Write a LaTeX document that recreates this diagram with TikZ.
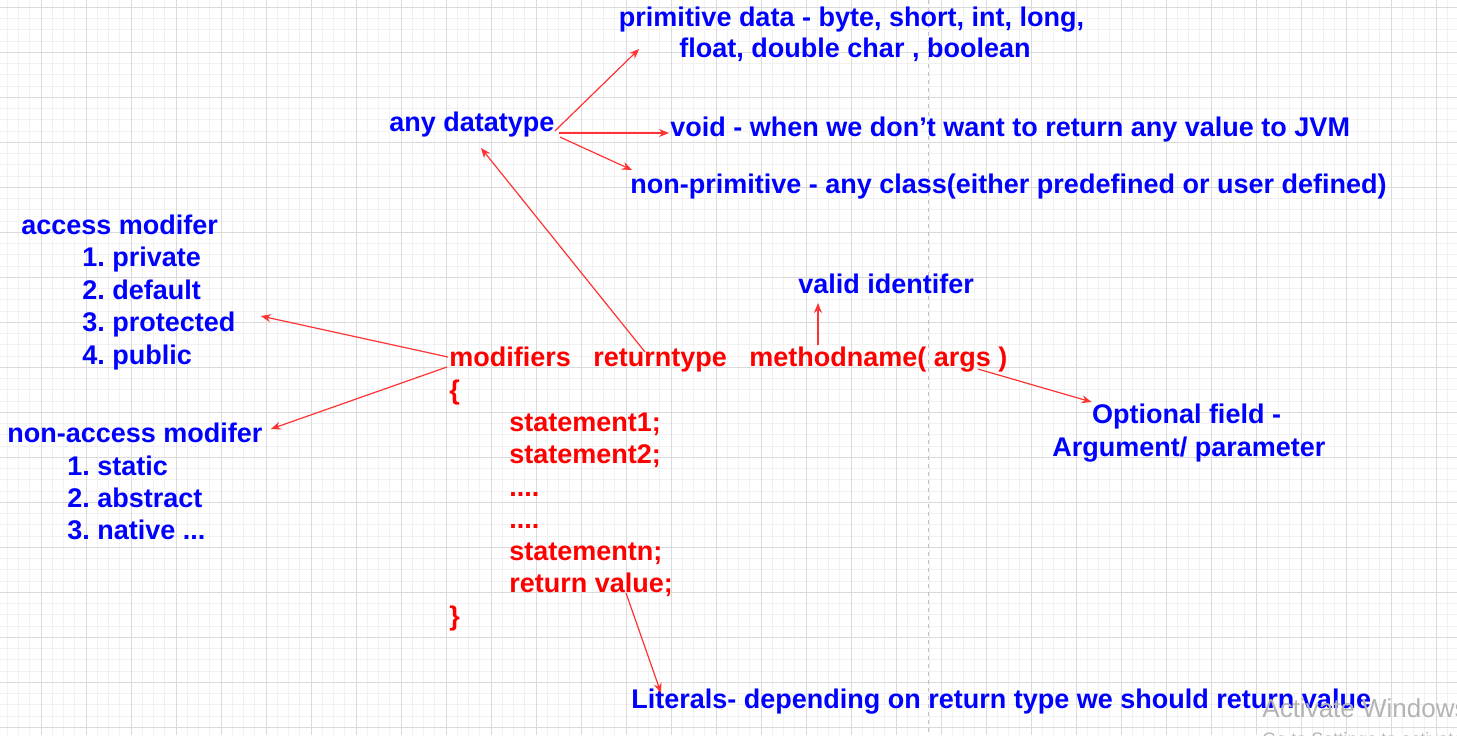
\documentclass[tikz,border=0pt]{standalone}
\usepackage{fontspec}
\setmainfont{Liberation Sans}
\usetikzlibrary{calc,arrows.meta}
\frenchspacing

\definecolor{mdBlue}{HTML}{0000FF}
\definecolor{mdRed}{HTML}{FF0000}
\definecolor{mdArrow}{HTML}{FF3333}
\definecolor{mdGridMinor}{HTML}{F1F1F1}
\definecolor{mdGridMajor}{HTML}{DADADA}
\definecolor{mdPage}{HTML}{C4C4C4}
\definecolor{mdWatermark}{HTML}{B4B4B4}

\begin{document}
\begin{tikzpicture}[
  x=0.5pt, y=-0.5pt,
  font=\fontsize{13.5}{16.25}\selectfont\bfseries,
  note/.style={inner sep=0pt, anchor=base west, text=mdBlue},
  code/.style={inner sep=0pt, anchor=base west, text=mdRed},
  link/.style={-{Stealth[length=5pt, width=4pt]}, draw=mdArrow, line width=0.6pt}
]
  \useasboundingbox (0,0) rectangle (1457,735);
  \fill[white] (0,0) rectangle (1457,735);

  % ---- background grid ----
  \foreach \gx in {0,...,128}
    \draw[mdGridMinor, line width=0.5pt] ({7.4+11.25*\gx},0) -- ++(0,735);
  \foreach \gy in {0,...,64}
    \draw[mdGridMinor, line width=0.5pt] (0,{7.3+11.25*\gy}) -- ++(1457,0);
  \foreach \gx in {0,...,31}
    \draw[mdGridMajor, line width=0.5pt] ({41.3+45*\gx},0) -- ++(0,735);
  \foreach \gy in {0,...,16}
    \draw[mdGridMajor, line width=0.5pt] (0,{7.3+45*\gy}) -- ++(1457,0);
  \draw[mdPage, line width=0.5pt, dash pattern=on 2pt off 2pt] (928,0) -- (928,735);

  % ---- return type branch ----
  \node[note, anchor=base] (prim1) at (851.5,26) {primitive data - byte, short, int, long,};
  \node[note, anchor=base] (prim2) at (855,57) {float, double char , boolean};
  \node[note] (anydt) at (389,131) {any datatype};
  \node[note] (void) at (670,136) {void - when we don't want to return any value to JVM};
  \node[note] (nonprim) at (630,193) {non-primitive - any class(either predefined or user defined)};

  % ---- modifier lists ----
  \node[note] (accmod) at (21,234) {access modifer};
  \node[note] (acc1) at (82,266) {1. private};
  \node[note] (acc2) at (82,299) {2. default};
  \node[note] (acc3) at (82,331) {3. protected};
  \node[note] (acc4) at (82,364) {4. public};
  \node[note] (nonacc) at (7,442) {non-access modifer};
  \node[note] (nacc1) at (67,475) {1. static};
  \node[note] (nacc2) at (67,507) {2. abstract};
  \node[note] (nacc3) at (67,539) {3. native ...};

  \node[note] (valid) at (798,293) {valid identifer};
  \node[note, anchor=base] (opt1) at (1186.5,423) {Optional field -};
  \node[note, anchor=base] (opt2) at (1189,456) {Argument/ parameter};

  % ---- method skeleton ----
  \node[code] (mods) at (449,366) {modifiers};
  \node[code] (rett) at (593,366) {returntype};
  \node[code] (mname) at (749,366) {methodname( args )};
  \node[code] (lbrace) at (449,399) {\{};
  \node[code] (st1) at (509,431) {statement1;};
  \node[code] (st2) at (509,463) {statement2;};
  \node[code] (dots1) at (509,496) {....};
  \node[code] (dots2) at (509,528) {....};
  \node[code] (stn) at (509,560) {statementn;};
  \node[code] (retval) at (509,592) {return value;};
  \node[code] (rbrace) at (449,625) {\}};

  \node[note] (lits) at (631,708) {Literals- depending on return type we should return value};

  % ---- screen watermark ----
  \node[inner sep=0pt, anchor=base west, text=mdWatermark, font=\fontsize{13}{15}\selectfont]
        (actwin) at (1262,717) {Activate Windows};
  \node[inner sep=0pt, anchor=base west, text=mdWatermark, font=\fontsize{9}{11}\selectfont]
        (actgo) at (1262,745) {Go to Settings to activate Windows.};

  % ---- arrows ----
  \draw[link] (anydt.base east) -- ($(prim2.base west)+(-40,-8)$);
  \draw[link] ($(anydt.base east)+(4,2)$) -- ($(void.base west)+(-1,-3)$);
  \draw[link] ($(anydt.base east)+(5,6)$) -- ($(nonprim.base west)+(2,-23)$);
  \draw[link] ($(rett.base west)+(52,-14)$) -- ($(anydt.base west)+(92,17)$);
  \draw[link] ($(mods.base west)+(-1,-9)$) -- ($(acc3.base east)+(25,-15)$);
  \draw[link] ($(mods.base west)+(-2,1)$) -- ($(nonacc.base east)+(8,-13)$);
  \draw[link] ($(mname.base west)+(69,-21)$) -- ($(valid.base west)+(20,10)$);
  \draw[link] ($(mname.base east)+(-30,3)$) -- ($(opt1.base west)+(0,-21)$);
  \draw[link] ($(retval.base west)+(117,1)$) -- ($(lits.base west)+(30,-15)$);
\end{tikzpicture}
\end{document}
